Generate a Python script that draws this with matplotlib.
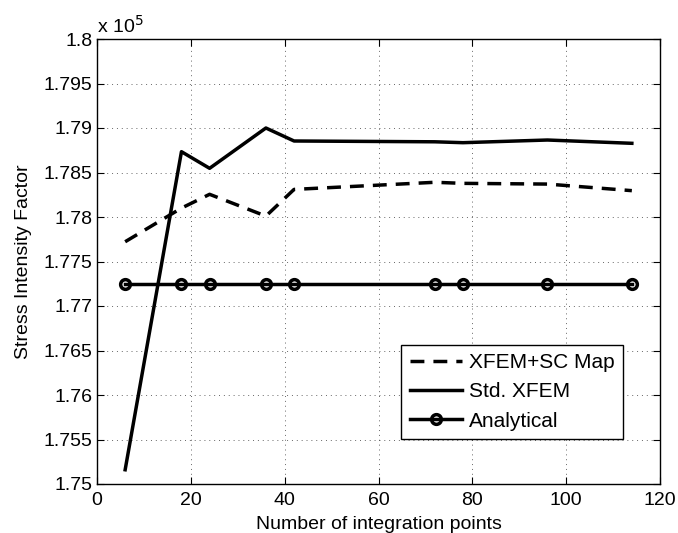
import matplotlib
matplotlib.use("Agg")
import matplotlib.pyplot as plt
import numpy as np

plt.rcParams['font.family'] = ['Liberation Sans', 'DejaVu Sans']

x_points = [6, 18, 24, 36, 42, 72, 78, 96, 114]
sc_map = [1.77722, 1.7810, 1.78255, 1.7801, 1.7831, 1.7839, 1.78378, 1.7837, 1.78296]
std_xfem = [1.7516, 1.78734, 1.78547, 1.7900, 1.78854, 1.78845, 1.78835, 1.78865, 1.78828]
analytical = [1.77247] * 9

x_ticks = [0, 20, 40, 60, 80, 100, 120]
y_ticks = [1.75, 1.755, 1.76, 1.765, 1.77, 1.775, 1.78, 1.785, 1.79, 1.795, 1.8]
y_labels = ['1.75', '1.755', '1.76', '1.765', '1.77', '1.775', '1.78', '1.785', '1.79', '1.795', '1.8']

fig = plt.figure(figsize=(6.78, 5.33), dpi=100)
ax = fig.add_axes([97/678, 49/533, 563/678, 445/533])

ax.plot(x_points, sc_map, color='black', linestyle=(0, (4, 2.6)), linewidth=2.5, label='XFEM+SC Map')
ax.plot(x_points, std_xfem, color='black', linestyle='-', linewidth=2.5, label='Std. XFEM')
ax.plot(x_points, analytical, color='black', linestyle='-', linewidth=2.5, marker='o',
        markersize=7, markerfacecolor='none', markeredgewidth=2.5, label='Analytical')

ax.set_xlim(0, 120)
ax.set_ylim(1.75, 1.8)
ax.set_xticks(x_ticks)
ax.set_yticks(y_ticks)
ax.set_yticklabels(y_labels)
ax.tick_params(direction='in', length=5, width=0.8, top=True, right=True, labelsize=14)
ax.tick_params(axis='x', pad=6)
ax.grid(True, color='black', linestyle=(0, (1, 4)), linewidth=0.7, alpha=0.6)
for s in ax.spines.values():
    s.set_linewidth(1.0)

ax.set_xlabel('Number of integration points', fontsize=14, labelpad=5)
ax.set_ylabel('Stress Intensity Factor', fontsize=14, labelpad=8)
ax.text(0.0, 1.005, r'x 10$^5$', transform=ax.transAxes, fontsize=14, ha='left', va='bottom')

leg = ax.legend(loc='lower right', bbox_to_anchor=(623/678, 94/533), bbox_transform=fig.transFigure,
                fontsize=15, frameon=True, fancybox=False, edgecolor='black', framealpha=1,
                handlelength=2.5, handletextpad=0.35, borderpad=0.4, labelspacing=0.5,
                borderaxespad=0)
leg.get_frame().set_linewidth(1.0)

fig.savefig('out.png', dpi=100)
